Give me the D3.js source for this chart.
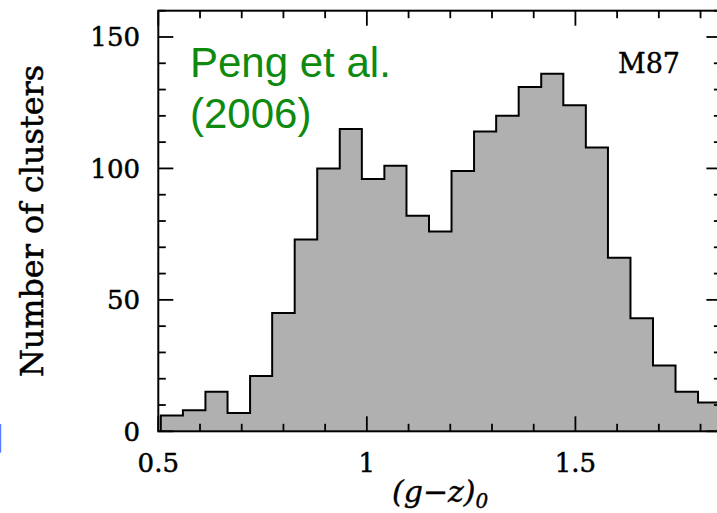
<!DOCTYPE html>
<html>
<head>
<meta charset="utf-8">
<script src="https://cdn.jsdelivr.net/npm/d3@7"></script>
<style>
  html, body { margin: 0; padding: 0; background: #fff; }
  svg { display: block; }
</style>
</head>
<body>
<svg id="chart" width="717" height="513"></svg>
<script>
// ---- data ----
const binEdges = [0.506, 0.559, 0.613, 0.666, 0.720, 0.773, 0.827, 0.881, 0.935, 0.988,
                  1.042, 1.095, 1.149, 1.203, 1.257, 1.310, 1.364, 1.418, 1.471, 1.525,
                  1.578, 1.632, 1.686, 1.740, 1.794, 1.848];
const counts = [6, 8, 15, 7, 21, 45, 73, 100, 115, 96,
                101, 82, 76, 99, 114, 120, 131, 136, 124, 108,
                66, 43, 25, 15, 11];
const xTickLabels = ["0.5", "1", "1.5"];
const xTickValues = [0.5, 1, 1.5];
const yTickValues = [0, 50, 100, 150];
const yTickLabels = ["0", "50", "100", "150"];
const annotation = ["Peng et al.", "(2006)"];
const galaxy = "M87";
const yLabel = "Number of clusters";

// ---- layout ----
const svg = d3.select("#chart");
const pL = 158.3, pR = 721.4, pT = 10.7, pB = 431.3;
const x = d3.scaleLinear().domain([0.5, 1.85]).range([pL, pR]);
const y = d3.scaleLinear().domain([0, 160]).range([pB, pT]);

svg.append("defs").append("clipPath").attr("id", "clip")
  .append("rect").attr("x", pL).attr("y", pT)
  .attr("width", pR - pL).attr("height", pB - pT);

// histogram as step outline
const pts = [[binEdges[0], 0]];
counts.forEach((c, i) => { pts.push([binEdges[i], c]); pts.push([binEdges[i + 1], c]); });
pts.push([binEdges[binEdges.length - 1], 0]);
const line = d3.line().x(d => x(d[0])).y(d => y(d[1]));
const g = svg.append("g").attr("clip-path", "url(#clip)");
g.append("path").attr("d", line(pts) + "Z").attr("fill", "#b0b0b0").attr("stroke", "none");
g.append("path").attr("d", line(pts)).attr("fill", "none").attr("stroke", "#000")
  .attr("stroke-width", 2).attr("stroke-linejoin", "miter");

// ticks (inward on all sides)
const xMinor = d3.range(0.5, 1.851, 0.1).map(v => +v.toFixed(2));
const yMinor = d3.range(0, 161, 10);
const tk = svg.append("g").attr("stroke", "#000").attr("stroke-width", 1.8);
xMinor.forEach(v => {
  const major = Math.abs(v * 2 - Math.round(v * 2)) < 1e-6;
  const L = major ? 15 : 7.5;
  tk.append("line").attr("x1", x(v)).attr("x2", x(v)).attr("y1", pB).attr("y2", pB - L);
  tk.append("line").attr("x1", x(v)).attr("x2", x(v)).attr("y1", pT).attr("y2", pT + L);
});
yMinor.forEach(v => {
  const major = v % 50 === 0;
  const L = major ? 15 : 7.5;
  tk.append("line").attr("x1", pL).attr("x2", pL + L).attr("y1", y(v)).attr("y2", y(v));
  tk.append("line").attr("x1", pR).attr("x2", pR - L).attr("y1", y(v)).attr("y2", y(v));
});

// frame
svg.append("rect").attr("x", pL).attr("y", pT).attr("width", pR - pL).attr("height", pB - pT)
  .attr("fill", "none").attr("stroke", "#000").attr("stroke-width", 2);

// tick labels
const font = "'DejaVu Serif', serif";
svg.append("g").selectAll("text").data(xTickValues).join("text")
  .attr("x", d => x(d)).attr("y", 472).attr("text-anchor", "middle")
  .attr("font-family", font).attr("font-size", 26).attr("fill", "#000")
  .attr("stroke", "#000").attr("stroke-width", 0.5)
  .text((d, i) => xTickLabels[i]);
svg.append("g").selectAll("text").data(yTickValues).join("text")
  .attr("x", 140).attr("y", d => y(d) + 9.5).attr("text-anchor", "end")
  .attr("font-family", font).attr("font-size", 26).attr("fill", "#000")
  .attr("stroke", "#000").attr("stroke-width", 0.5)
  .text((d, i) => yTickLabels[i]);

// y label
svg.append("text").attr("transform", "translate(43,221) rotate(-90)")
  .attr("text-anchor", "middle").attr("font-family", font).attr("font-size", 31)
  .attr("textLength", 312).attr("lengthAdjust", "spacingAndGlyphs")
  .attr("fill", "#000").attr("stroke", "#000").attr("stroke-width", 0.5).text(yLabel);

// x label
const xl = svg.append("text").attr("x", 392).attr("y", 502)
  .attr("font-family", font).attr("font-style", "italic").attr("font-size", 30)
  .attr("fill", "#000").attr("stroke", "#000").attr("stroke-width", 0.4);
xl.append("tspan").text("(g\u2212z)");
xl.append("tspan").attr("dy", 6).attr("font-size", 20).text("0");

// annotation
annotation.forEach((t, i) => {
  svg.append("text").attr("x", 190).attr("y", 77 + i * 51)
    .attr("font-family", "'Liberation Sans', Arial, sans-serif").attr("font-size", 42)
    .attr("fill", "#0e8a0e").text(t);
});
svg.append("text").attr("x", 618).attr("y", 72.5)
  .attr("font-family", font).attr("font-size", 27).attr("fill", "#000")
  .attr("stroke", "#000").attr("stroke-width", 0.4).text(galaxy);

// small blue marker at far left
svg.append("rect").attr("x", 0).attr("y", 424).attr("width", 1.2).attr("height", 28.7).attr("fill", "#5a7cff");
</script>
</body>
</html>
